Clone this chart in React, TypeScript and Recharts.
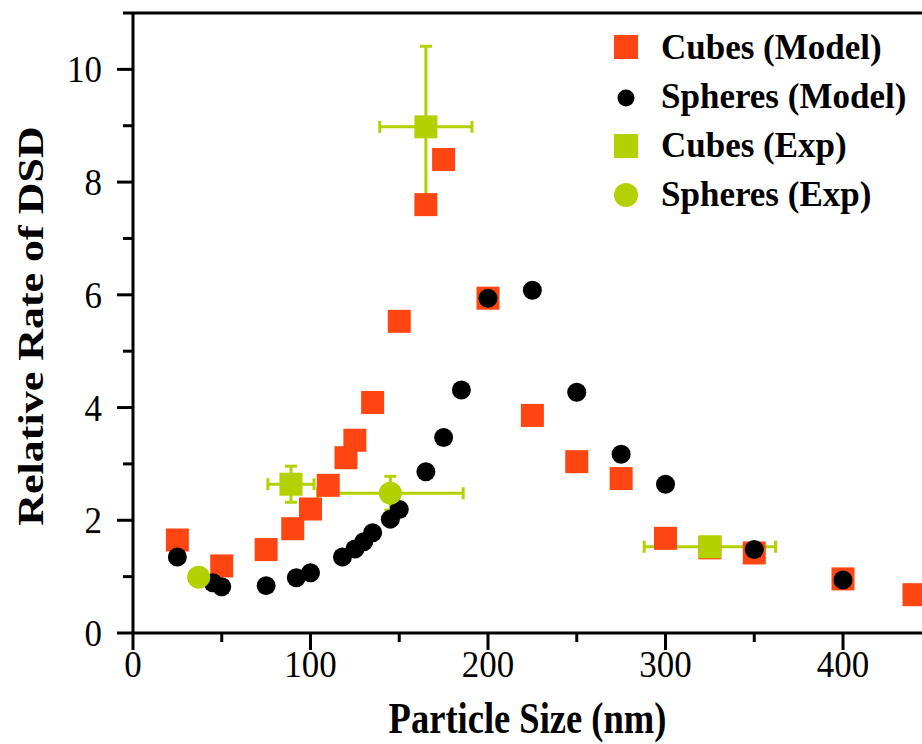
import {
  ScatterChart,
  Scatter,
  XAxis,
  YAxis,
  ErrorBar,
  Legend,
  Label,
  ReferenceLine,
} from "recharts";

// particle size (nm) and relative rate
const cubesModelX = [25, 50, 75, 90, 100, 110, 120, 125, 135, 150, 165, 175, 200, 225, 250, 275, 300, 325, 350, 400, 440];
const cubesModelY = [1.65, 1.19, 1.48, 1.85, 2.2, 2.62, 3.11, 3.42, 4.09, 5.53, 7.6, 8.4, 5.94, 3.86, 3.04, 2.74, 1.68, 1.51, 1.42, 0.96, 0.68];

const spheresModelX = [25, 45, 50, 75, 92, 100, 118, 125, 130, 135, 145, 150, 165, 175, 185, 200, 225, 250, 275, 300, 350, 400];
const spheresModelY = [1.35, 0.89, 0.82, 0.84, 0.98, 1.07, 1.35, 1.49, 1.62, 1.78, 2.02, 2.19, 2.86, 3.47, 4.31, 5.94, 6.08, 4.27, 3.17, 2.64, 1.48, 0.94];

const cubesExpX = [89, 165, 325];
const cubesExpY = [2.64, 8.98, 1.53];
const cubesExpErrX = [13, 26, 37];
const cubesExpErrY = [0.32, 1.43, 0];

const spheresExpX = [37, 145];
const spheresExpY = [0.99, 2.48];
const spheresExpErrX = [0, 41];
const spheresExpErrY = [0, 0.3];

const xTicks = [0, 50, 100, 150, 200, 250, 300, 350, 400];
const yTicks = [0, 1, 2, 3, 4, 5, 6, 7, 8, 9, 10, 11];

const legendNames = ["Cubes (Model)", "Spheres (Model)", "Cubes (Exp)", "Spheres (Exp)"];

const ORANGE = "#ff4511";
const GREEN = "#b3d100";
const FONT = "Liberation Serif";

const cubesModel = cubesModelX.map((x, i) => ({ x, y: cubesModelY[i] }));
const spheresModel = spheresModelX.map((x, i) => ({ x, y: spheresModelY[i] }));
const cubesExp = cubesExpX.map((x, i) => ({ x, y: cubesExpY[i], ex: cubesExpErrX[i], ey: cubesExpErrY[i] }));
const spheresExp = spheresExpX.map((x, i) => ({ x, y: spheresExpY[i], ex: spheresExpErrX[i], ey: spheresExpErrY[i] }));

const square = (color: string, side: number) => (props: any) => (
  <rect x={props.cx - side / 2} y={props.cy - side / 2} width={side} height={side} fill={color} />
);

const circle = (color: string, r: number) => (props: any) => (
  <circle cx={props.cx} cy={props.cy} r={r} fill={color} />
);

const XTick = (props: any) => {
  const { x, y, payload } = props;
  const major = payload.value % 100 === 0;
  return (
    <g>
      <line x1={x} y1={y} x2={x} y2={y + (major ? 17 : 9)} stroke="#000" strokeWidth={3} />
      {major && (
        <text
          transform={`translate(${x},${y + 44}) scale(0.92,1)`}
          textAnchor="middle"
          fontFamily={FONT}
          fontSize={38}
          fill="#000"
        >
          {payload.value}
        </text>
      )}
    </g>
  );
};

const YTick = (props: any) => {
  const { x, y, payload } = props;
  const major = payload.value % 2 === 0;
  return (
    <g>
      <line x1={x - (major ? 16 : 10)} y1={y} x2={x} y2={y} stroke="#000" strokeWidth={3} />
      {major && (
        <text
          transform={`translate(${x - 31},${y + 13}) scale(0.92,1)`}
          textAnchor="end"
          fontFamily={FONT}
          fontSize={38}
          fill="#000"
        >
          {payload.value}
        </text>
      )}
    </g>
  );
};

const XTitle = (props: any) => {
  const { x, y, width } = props.viewBox;
  return (
    <text
      transform={`translate(${x + width / 2},${y + 100}) scale(0.83,1)`}
      textAnchor="middle"
      fontFamily={FONT}
      fontWeight="bold"
      fontSize={44}
      fill="#000"
    >
      Particle Size (nm)
    </text>
  );
};

const YTitle = (props: any) => {
  const { y, height } = props.viewBox;
  return (
    <text
      transform={`translate(43,${y + height / 2 + 3}) rotate(-90) scale(1,0.83)`}
      textAnchor="middle"
      fontFamily={FONT}
      fontWeight="bold"
      fontSize={44}
      fill="#000"
    >
      Relative Rate of DSD
    </text>
  );
};

const renderLegend = () => {
  const symbols = [
    <rect key="a" x={14} y={15} width={24} height={24} fill={ORANGE} />,
    <circle key="b" cx={26} cy={78} r={8.5} fill="#000" />,
    <rect key="c" x={14} y={114} width={24} height={24} fill={GREEN} />,
    <circle key="d" cx={26} cy={175} r={12} fill={GREEN} />,
  ];
  return (
    <svg width={322} height={200}>
      {legendNames.map((name, i) => (
        <g key={name}>
          {symbols[i]}
          <text x={61} y={39 + i * 49} fontFamily={FONT} fontWeight="bold" fontSize={35} fill="#000">
            {name}
          </text>
        </g>
      ))}
    </svg>
  );
};

export default function App() {
  return (
    <div style={{ position: "absolute", left: 0, top: 0, background: "#fff" }}>
      <ScatterChart width={922} height={744} margin={{ top: 13, right: 0, bottom: 0, left: 0 }}>
        <XAxis
          dataKey="x"
          type="number"
          domain={[0, 444.5]}
          allowDataOverflow
          ticks={xTicks}
          interval={0}
          tickSize={0}
          tickMargin={0}
          tick={<XTick />}
          axisLine={{ stroke: "#000", strokeWidth: 3 }}
          height={111}
        >
          <Label content={<XTitle />} />
        </XAxis>
        <YAxis
          dataKey="y"
          type="number"
          domain={[0, 11]}
          ticks={yTicks}
          interval={0}
          tickSize={0}
          tickMargin={0}
          tick={<YTick />}
          axisLine={{ stroke: "#000", strokeWidth: 3 }}
          width={133}
        >
          <Label content={<YTitle />} />
        </YAxis>
        <ReferenceLine y={11} stroke="#000" strokeWidth={3} />
        <Legend
          layout="vertical"
          align="center"
          verticalAlign="middle"
          content={renderLegend}
          wrapperStyle={{ left: 600, top: 20, width: 322, height: 200 }}
        />
        <Scatter name="Cubes (Model)" data={cubesModel} shape={square(ORANGE, 23)} isAnimationActive={false} />
        <Scatter name="Spheres (Model)" data={spheresModel} shape={circle("#000", 9.5)} isAnimationActive={false} />
        <Scatter name="Cubes (Exp)" data={cubesExp} shape={square(GREEN, 23)} isAnimationActive={false}>
          <ErrorBar dataKey="ex" direction="x" width={6} stroke={GREEN} strokeWidth={3} />
          <ErrorBar dataKey="ey" direction="y" width={6} stroke={GREEN} strokeWidth={3} />
        </Scatter>
        <Scatter name="Spheres (Exp)" data={spheresExp} shape={circle(GREEN, 11.5)} isAnimationActive={false}>
          <ErrorBar dataKey="ex" direction="x" width={6} stroke={GREEN} strokeWidth={3} />
          <ErrorBar dataKey="ey" direction="y" width={6} stroke={GREEN} strokeWidth={3} />
        </Scatter>
      </ScatterChart>
    </div>
  );
}
